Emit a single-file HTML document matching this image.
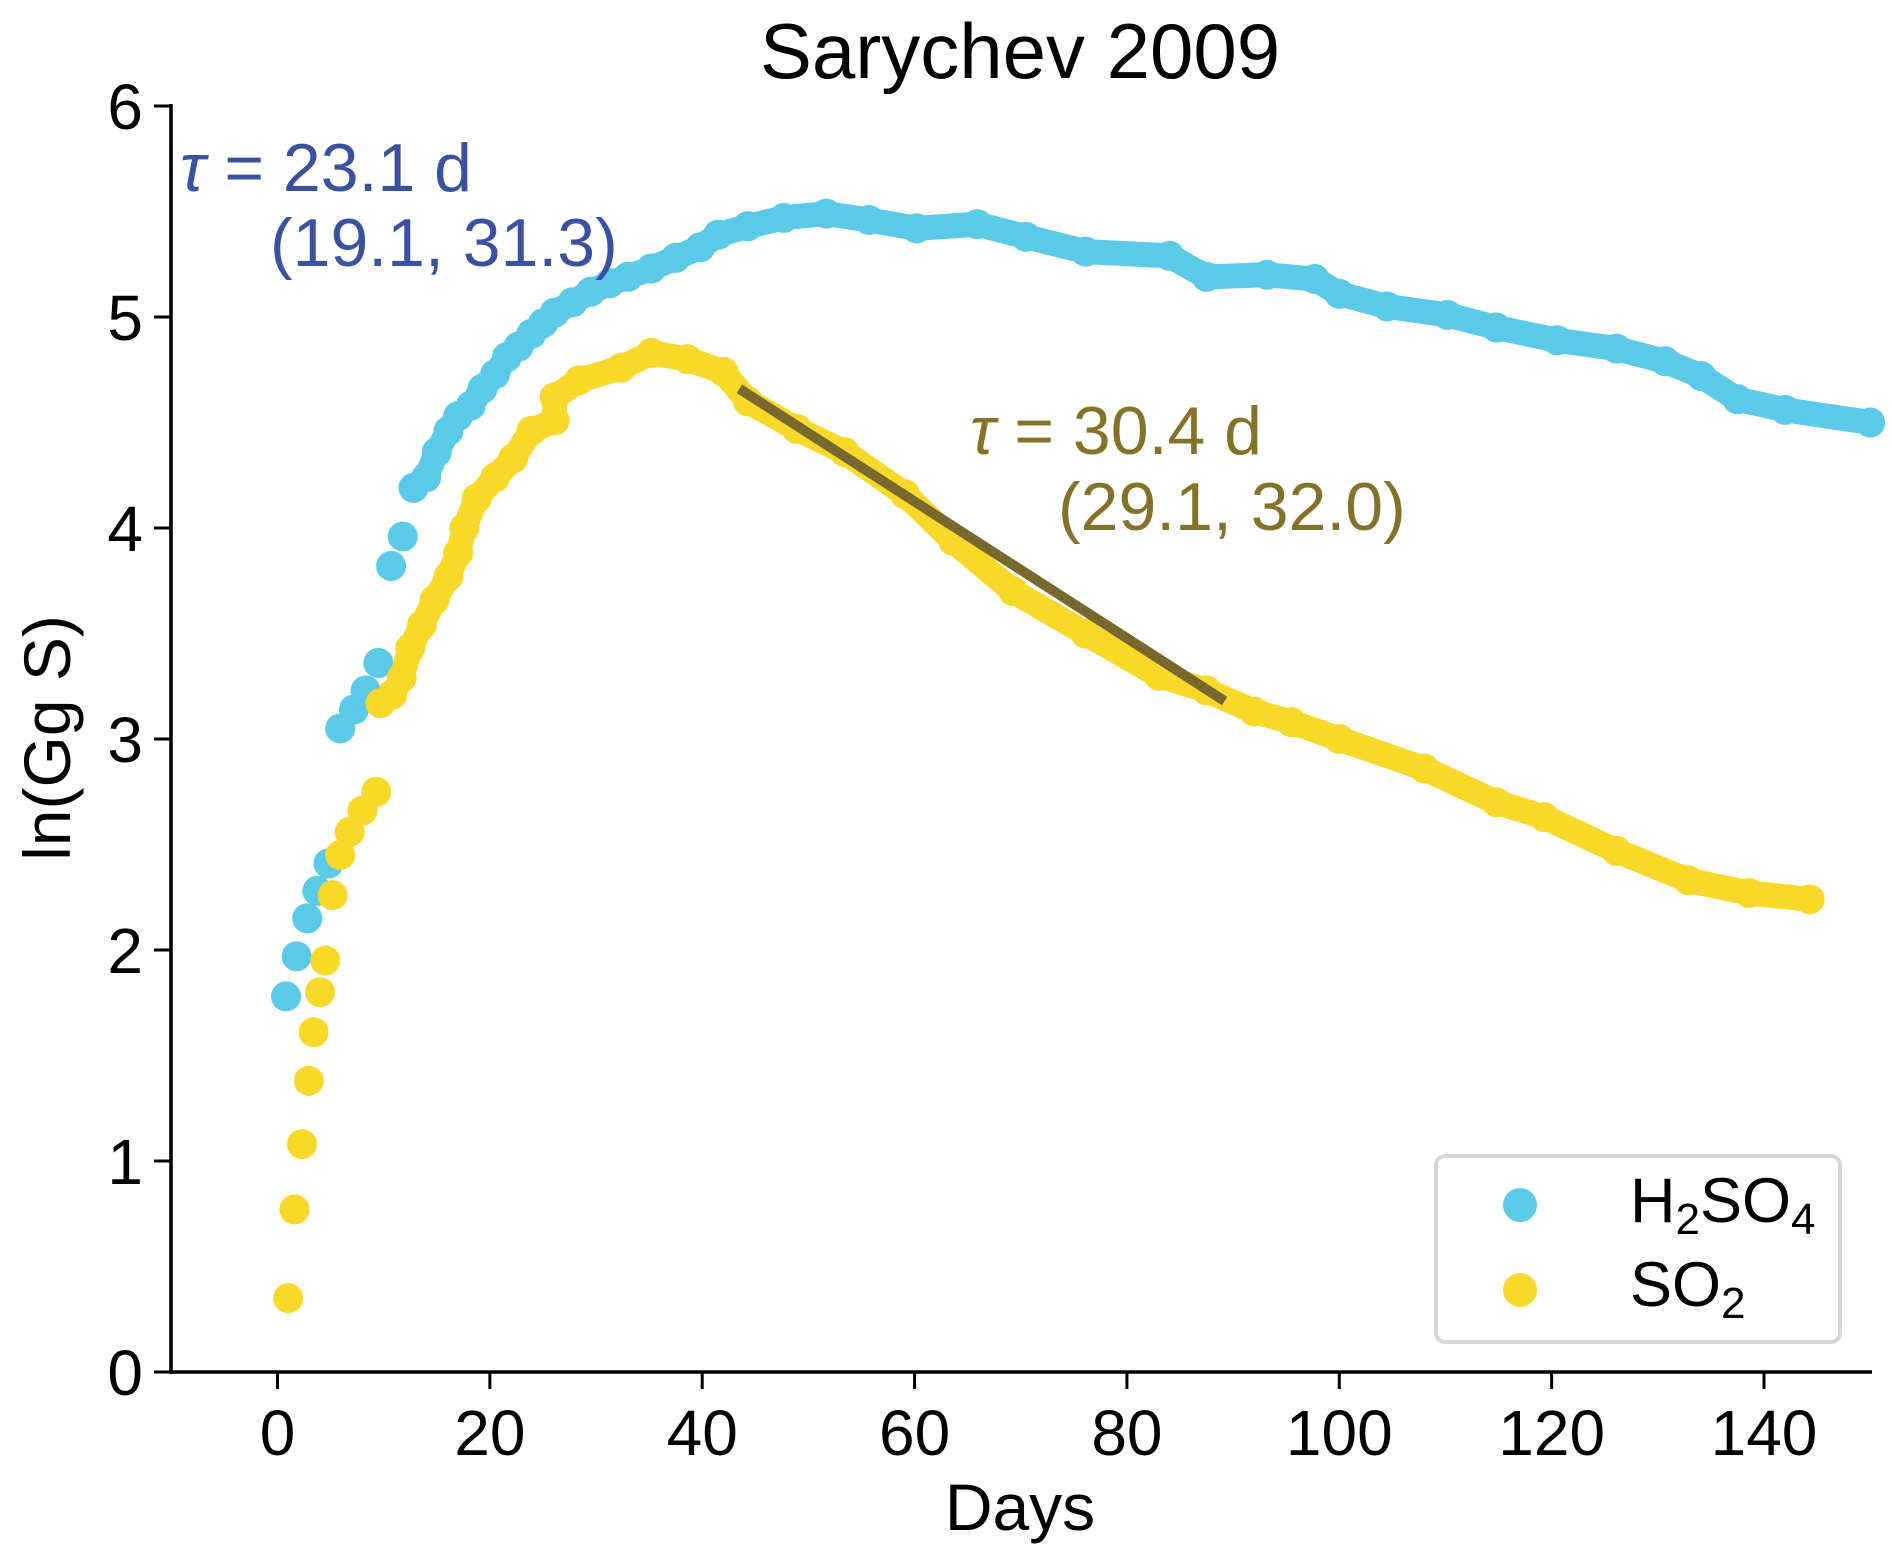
<!DOCTYPE html>
<html><head><meta charset="utf-8"><style>
html,body{margin:0;padding:0;background:#fff;}
svg{display:block;font-family:"Liberation Sans",Arial,sans-serif;}
</style></head><body>
<svg id="chart" width="1892" height="1566" viewBox="0 0 1892 1566">
<text x="1020" y="78" font-size="78" text-anchor="middle">Sarychev 2009</text>
<g id="plot"></g>
<g id="axes"></g>
<text x="1020" y="1530" font-size="66" text-anchor="middle">Days</text>
<text transform="translate(70,738) rotate(-90)" font-size="66" text-anchor="middle">ln(Gg S)</text>
<text x="180" y="191" font-size="68" fill="#3a51a2"><tspan font-style="italic">τ</tspan> = 23.1 d</text>
<text x="270" y="266" font-size="68" fill="#3a51a2">(19.1, 31.3)</text>
<text x="970" y="454" font-size="68" fill="#85722a"><tspan font-style="italic">τ</tspan> = 30.4 d</text>
<text x="1058" y="530" font-size="68" fill="#85722a">(29.1, 32.0)</text>
<g>
<rect x="1436" y="1156" width="404" height="186" rx="9" fill="#fff" stroke="#d6d6d6" stroke-width="4"/>
<circle cx="1520" cy="1205" r="17" fill="#5bc9e8"/>
<text x="1630" y="1222" font-size="63">H<tspan font-size="44" dy="12">2</tspan><tspan dy="-12">SO</tspan><tspan font-size="44" dy="12">4</tspan></text>
<circle cx="1520" cy="1290" r="17" fill="#f8d92a"/>
<text x="1630" y="1306" font-size="63">SO<tspan font-size="44" dy="12">2</tspan></text>
</g>
</svg>
<script>
const xTicks=[0,20,40,60,80,100,120,140];
const yTicks=[0,1,2,3,4,5,6];
const h2so4Days=[0.8,1.8,2.8,3.75,4.8,5.9,7.2,8.3,9.5,10.7,11.8,12.8,14,15,16.1,17,18.2,19.3,20.5,21.6,22.7,23.9,25,26.1,27.8,29.5,31.3,33,35.2,37.5,39.8,41.5,44.3,47.7,51.7,55.7,60.2,65.9,70.5,76.1,84,87.5,93.2,97.7,100,104.5,110.2,114.8,120.5,126.1,130.7,134.1,137.5,142,150];
const h2so4Vals=[1.78,1.97,2.15,2.28,2.41,3.05,3.14,3.23,3.36,3.82,3.96,4.19,4.24,4.36,4.46,4.53,4.58,4.66,4.73,4.81,4.86,4.92,4.97,5.02,5.07,5.12,5.16,5.19,5.23,5.28,5.33,5.39,5.43,5.47,5.49,5.46,5.42,5.44,5.38,5.31,5.29,5.19,5.20,5.18,5.11,5.05,5.01,4.95,4.89,4.85,4.79,4.72,4.61,4.56,4.50];
const so2Days=[1,1.6,2.3,2.95,3.4,4,4.5,5.2,5.9,6.8,8,9.3,9.7,10.8,11.7,12.5,13.6,14.8,16.1,17,17.6,18.75,20.5,22.2,23.9,26.1,26.1,28.4,32.4,35.2,38.6,42,44.3,48.9,53.4,59.1,63.6,69.3,76.1,83,87.5,92,95.5,100,108,114.8,119.3,126.1,132.9,138.6,144.3];
const so2Vals=[0.35,0.77,1.08,1.38,1.61,1.80,1.95,2.26,2.45,2.56,2.66,2.75,3.17,3.21,3.29,3.43,3.54,3.66,3.77,3.88,4.00,4.14,4.24,4.33,4.46,4.51,4.62,4.70,4.76,4.83,4.80,4.74,4.60,4.47,4.36,4.16,3.94,3.70,3.50,3.30,3.23,3.13,3.08,3.00,2.86,2.70,2.63,2.47,2.33,2.27,2.24];
const fitDays=[43.5,89.2];
const fitVals=[4.66,3.18];

const NS='http://www.w3.org/2000/svg';
const X0=171,X1=1872,Y0=1372,Y6=106;
function xs(d){return 277.5+(d-0)*(1764-277.5)/140;}
function ys(v){return Y0-(v)*(Y0-Y6)/6;}
function mk(tag,attrs,parent){const e=document.createElementNS(NS,tag);for(const k in attrs)e.setAttribute(k,attrs[k]);parent.appendChild(e);return e;}
const plot=document.getElementById('plot'),axes=document.getElementById('axes');

function drawSeries(days,vals,color,name,start){
  const g=mk('g',{},plot);
  
  
  const pts=days.slice(start).map((d,i)=>xs(d)+','+ys(vals[start+i])).join(' ');
  const band=mk('polyline',{points:pts,fill:'none',stroke:color,'stroke-width':25,'stroke-linejoin':'round','stroke-linecap':'round'},g);
  
  
  days.forEach((d,i)=>{
    const c=mk('circle',{cx:xs(d),cy:ys(vals[i]),r:15,fill:color},g);
    
    
  });
}
drawSeries(h2so4Days,h2so4Vals,'#5bc9e8','h2so4',11);
drawSeries(so2Days,so2Vals,'#f8d92a','so2',12);
const fit=mk('line',{x1:xs(fitDays[0]),y1:ys(fitVals[0]),x2:xs(fitDays[1]),y2:ys(fitVals[1]),stroke:'#77692e','stroke-width':10},plot);



const yl=mk('line',{x1:X0,y1:Y6-2,x2:X0,y2:Y0+2,stroke:'#000','stroke-width':3.6},axes);


const xl=mk('line',{x1:X0-2,y1:Y0,x2:X1,y2:Y0,stroke:'#000','stroke-width':3.6},axes);


xTicks.forEach(t=>{
  const l=mk('line',{x1:xs(t),y1:Y0,x2:xs(t),y2:Y0+17,stroke:'#000','stroke-width':3},axes);
  
  
  const tx=mk('text',{x:xs(t),y:1455,'font-size':64,'text-anchor':'middle'},axes);
  tx.textContent=t;
  
  
});
yTicks.forEach(t=>{
  const l=mk('line',{x1:X0-17,y1:ys(t),x2:X0,y2:ys(t),stroke:'#000','stroke-width':3},axes);
  
  
  const tx=mk('text',{x:143,y:ys(t)+23,'font-size':64,'text-anchor':'end'},axes);
  tx.textContent=t;
  
  
});
</script>
</body></html>
